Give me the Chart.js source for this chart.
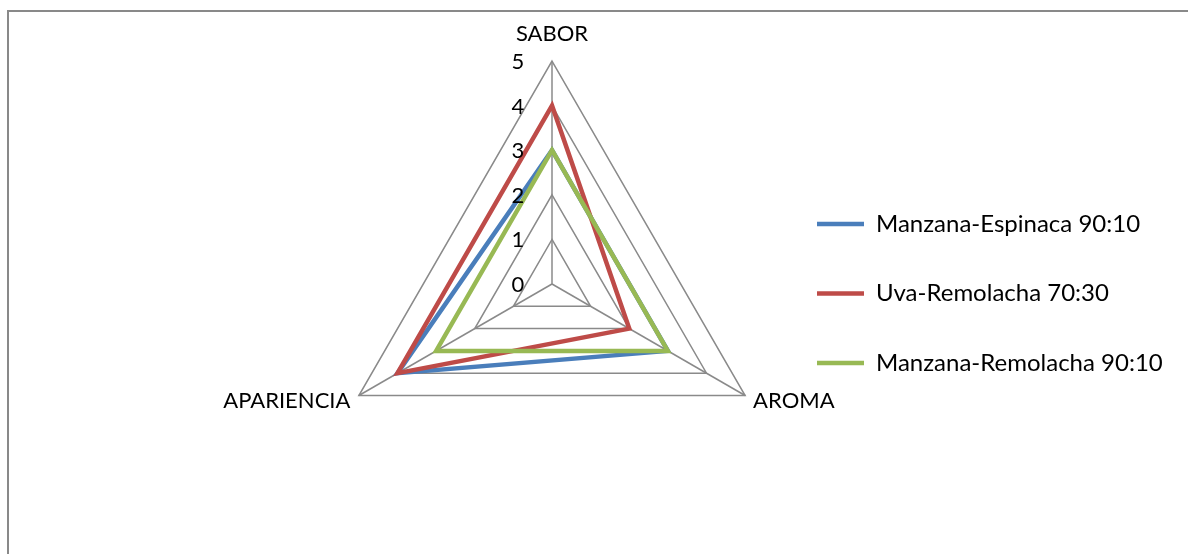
<!DOCTYPE html>
<html>
<head>
<meta charset="utf-8">
<title>Evaluación sensorial</title>
<script src="https://cdn.jsdelivr.net/npm/chart.js@4/dist/chart.umd.min.js"></script>
<style>
  html, body { margin: 0; padding: 0; background: #fff; }
  #frame {
    position: absolute; left: 7px; top: 10px; right: 0; bottom: 0;
    border-top: 2px solid #898989; border-left: 2px solid #898989;
  }
  #c { position: absolute; left: 0; top: 0; }
</style>
</head>
<body>
<div id="frame"></div>
<canvas id="c" width="1188" height="554"></canvas>
<script>
// Sensory attributes (radar axes)
const categories = ['SABOR', 'AROMA', 'APARIENCIA'];

// Panel scores per blend
const manzanaEspinaca = [3, 3, 4];
const uvaRemolacha = [4, 2, 4];
const manzanaRemolacha = [3, 3, 3];

const seriesNames = ['Manzana-Espinaca 90:10', 'Uva-Remolacha 70:30', 'Manzana-Remolacha 90:10'];

// Scale range and tick step
const scaleMin = 0;
const scaleMax = 5;
const scaleStep = 1;

const FONT_FAMILY = 'Lato';
const FONT_SIZE = 22;
const LEGEND_FONT_SIZE = 24;
const GRID = '#8a8a8a';

// Radar geometry: centre and outer radius of the web
const CX = 552, CY = 284, RADIUS = 223;

// Legend placement: start x of the line samples, sample length, gap between rows
const LEGEND_X = 817, SAMPLE_W = 47, LEGEND_GAP = 45.5;

const meas = document.createElement('canvas').getContext('2d');
meas.font = LEGEND_FONT_SIZE + 'px ' + FONT_FAMILY;
const longest = Math.max(...seriesNames.map(n => meas.measureText(n).width));
const padRight = 1188 - LEGEND_X - (SAMPLE_W + LEGEND_FONT_SIZE / 2 + longest) - 10;

// Category names at the outer vertices and the value numbers along the first axis
const radarText = {
  id: 'radarText',
  afterDraw(chart) {
    const s = chart.scales.r;
    const ctx = chart.ctx;
    ctx.save();
    ctx.font = FONT_SIZE + 'px ' + FONT_FAMILY;
    ctx.fillStyle = '#000';
    ctx.textBaseline = 'alphabetic';
    const half = FONT_SIZE * 0.36;

    ctx.textAlign = 'center';
    s.ticks.forEach(t => {
      const p = s.getPointPositionForValue(0, t.value);
      ctx.fillText(String(t.value), p.x - 34, p.y + half);
    });

    chart.data.labels.forEach((lab, i) => {
      const p = s.getPointPosition(i, s.drawingArea);
      if (i === 0) {
        ctx.textAlign = 'center';
        ctx.fillText(lab, p.x, p.y - 20);
      } else if (p.x > s.xCenter) {
        ctx.textAlign = 'left';
        ctx.fillText(lab, p.x + 8, p.y + 12.5);
      } else {
        ctx.textAlign = 'right';
        ctx.fillText(lab, p.x - 8.5, p.y + 12.5);
      }
    });
    ctx.restore();
  }
};

Chart.defaults.font.family = FONT_FAMILY;

const lineStyle = (label, data, color, order) => ({
  label, data, order,
  borderColor: color,
  backgroundColor: color,
  borderWidth: 4.5,
  borderCapStyle: 'round',
  borderJoinStyle: 'miter',
  fill: false,
  pointRadius: 0,
  pointHoverRadius: 0,
  tension: 0
});

new Chart(document.getElementById('c'), {
  type: 'radar',
  data: {
    labels: categories,
    datasets: [
      lineStyle(seriesNames[0], manzanaEspinaca, '#4A7EBB', 3),
      lineStyle(seriesNames[1], uvaRemolacha, '#BE4B48', 2),
      lineStyle(seriesNames[2], manzanaRemolacha, '#98B954', 1)
    ]
  },
  options: {
    responsive: false,
    animation: false,
    events: [],
    layout: { padding: { top: 33, bottom: 0, left: 0, right: padRight } },
    plugins: {
      tooltip: { enabled: false },
      legend: {
        position: 'right',
        align: 'center',
        labels: {
          usePointStyle: true,
          pointStyle: 'line',
          pointStyleWidth: SAMPLE_W,
          padding: LEGEND_GAP,
          color: '#000',
          font: { family: FONT_FAMILY, size: LEGEND_FONT_SIZE },
          sort: (a, b) => a.datasetIndex - b.datasetIndex
        }
      }
    },
    scales: {
      r: {
        min: scaleMin,
        max: scaleMax,
        ticks: { stepSize: scaleStep, display: false },
        pointLabels: { display: false },
        grid: { color: GRID, lineWidth: 1.5 },
        angleLines: { color: GRID, lineWidth: 1.5 },
        afterFit(scale) {
          scale.xCenter = CX;
          scale.yCenter = CY;
          scale.drawingArea = RADIUS;
        }
      }
    }
  },
  plugins: [radarText]
});
</script>
</body>
</html>
